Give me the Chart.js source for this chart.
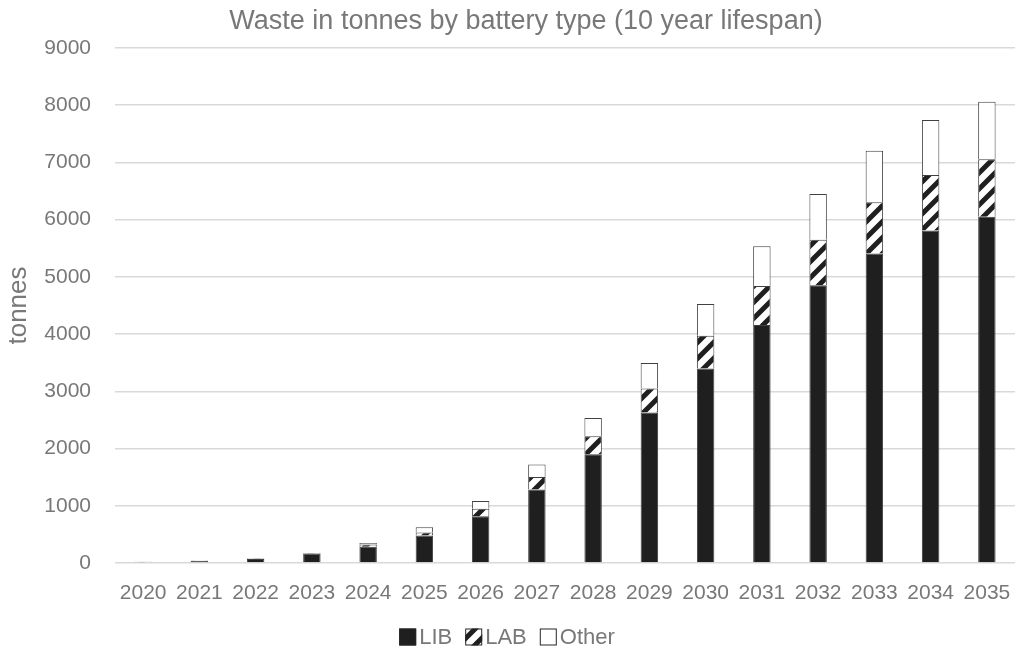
<!DOCTYPE html>
<html lang="en">
<head>
  <meta charset="UTF-8">
  <title>Waste in tonnes by battery type</title>
  <script src="https://cdn.jsdelivr.net/npm/chart.js"></script>
  <style>
    body { margin: 0; background: #fff; }
    canvas { display: block; }
  </style>
</head>
<body>
  <canvas id="grafico" width="1018" height="655"></canvas>

  <script>
    const years = ['2020', '2021', '2022', '2023', '2024', '2025', '2026', '2027',
                   '2028', '2029', '2030', '2031', '2032', '2033', '2034', '2035'];
    const lib   = [15, 35, 70, 165, 285, 480, 815, 1285, 1900, 2630, 3400, 4160, 4855, 5410, 5810, 6050];
    const lab   = [3, 5, 8, 10, 40, 55, 135, 220, 315, 420, 570, 680, 795, 895, 970, 1005];
    const other = [2, 3, 5, 5, 25, 90, 135, 215, 320, 445, 555, 695, 800, 900, 960, 1005];

    const titulo = 'Waste in tonnes by battery type (10 year lifespan)';
    const gris = '#787878';
    const fuente = 'Liberation Sans, Arial, sans-serif';

    // trama de rayas diagonales para LAB
    function rayas() {
      const n = 16;
      const c = document.createElement('canvas');
      c.width = n; c.height = n;
      const g = c.getContext('2d');
      g.fillStyle = '#fff';
      g.fillRect(0, 0, n, n);
      g.strokeStyle = '#1f1f1f';
      g.lineWidth = 5;
      g.beginPath();
      for (const k of [0, n, 2 * n]) {   // lineas x + y = k
        g.moveTo(k - 2 * n, 2 * n);
        g.lineTo(k + 2 * n, -2 * n);
      }
      g.stroke();
      return g.createPattern(c, 'repeat');
    }

    // titulo y leyenda dibujados a mano
    const textos = {
      id: 'textos',
      afterDraw(chart) {
        const c = chart.ctx;
        c.save();
        c.textBaseline = 'middle';
        c.fillStyle = gris;
        c.font = '27px ' + fuente;
        c.textAlign = 'center';
        c.fillText(titulo, 526, 22);

        c.textAlign = 'left';
        c.font = '22px ' + fuente;
        const caja = 17, hueco = 3, sep = 13, y = 637;
        const items = chart.data.datasets.map(d => ({ d, w: c.measureText(d.label).width }));
        const total = items.reduce((s, it) => s + caja + hueco + it.w, 0) + sep * (items.length - 1);
        let x = (chart.width - total) / 2 - 2;
        items.forEach(it => {
          c.fillStyle = it.d.backgroundColor;
          c.fillRect(x, y - caja / 2, caja, caja);
          c.strokeStyle = '#262626';
          c.lineWidth = 1;
          c.strokeRect(x + 0.5, y - caja / 2 + 0.5, caja - 1, caja - 1);
          c.fillStyle = gris;
          c.fillText(it.d.label, x + caja + hueco, y + 1);
          x += caja + hueco + it.w + sep;
        });
        c.restore();
      }
    };

    const ctx = document.getElementById('grafico').getContext('2d');
    const patron = rayas();

    new Chart(ctx, {
      type: 'bar',
      data: {
        labels: years,
        datasets: [
          { label: 'LIB', data: lib, backgroundColor: '#1f1f1f', borderColor: '#404040', borderWidth: 1 },
          { label: 'LAB', data: lab, backgroundColor: patron, borderColor: '#404040', borderWidth: 1 },
          { label: 'Other', data: other, backgroundColor: '#ffffff', borderColor: '#404040', borderWidth: 1 }
        ]
      },
      options: {
        responsive: false,
        animation: false,
        layout: { padding: { left: 0, right: 3, top: 48, bottom: 49 } },
        datasets: { bar: { barPercentage: 0.62, categoryPercentage: 0.5 } },
        scales: {
          x: {
            stacked: true,
            grid: { display: false, drawTicks: false },
            border: { display: false },
            ticks: { color: gris, font: { family: fuente, size: 21 }, maxRotation: 0, autoSkip: false, padding: 18 },
            afterFit: s => { s.height = 43; s.paddingLeft = 0; s.paddingRight = 0; }
          },
          y: {
            stacked: true,
            min: 0, max: 9000,
            grid: { color: '#d9d9d9', lineWidth: 1.5, drawTicks: false },
            border: { display: false },
            ticks: {
              stepSize: 1000, color: gris, font: { family: fuente, size: 21 }, padding: 24,
              callback: v => String(v)
            },
            title: { display: true, text: 'tonnes', color: gris, font: { family: fuente, size: 26 }, padding: { top: 3, bottom: 10 } },
            afterFit: s => { s.width = 115; }
          }
        },
        plugins: {
          legend: { display: false },
          title: { display: false },
          tooltip: { enabled: false }
        }
      },
      plugins: [textos]
    });
  </script>
</body>
</html>
